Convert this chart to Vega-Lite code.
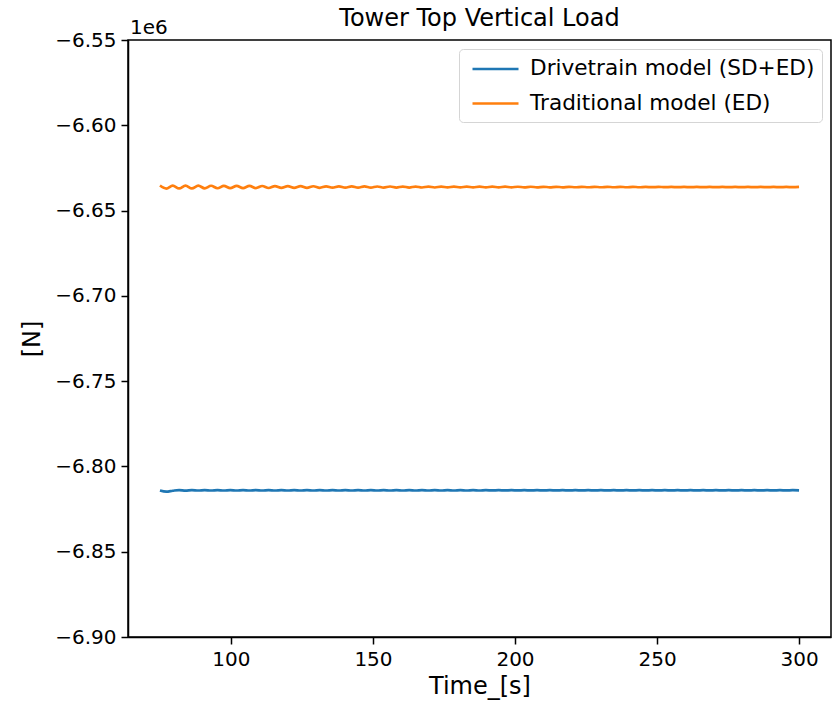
{
  "$schema": "https://vega.github.io/schema/vega-lite/v6.json",
  "width": 703,
  "height": 597,
  "autosize": "none",
  "padding": {"left": 128, "top": 40, "right": 1, "bottom": 65},
  "config": {
    "font": "DejaVu Sans",
    "view": {"stroke": "black", "strokeWidth": 1.5},
    "axis": {"grid": false, "domainColor": "black", "domainWidth": 1.5, "tickColor": "black", "tickWidth": 1.5, "labelColor": "black", "titleColor": "black", "labelFontSize": 20, "titleFontSize": 24, "titleFontWeight": "normal", "tickSize": 7, "labelPadding": 5},
    "legend": {"labelFontSize": 21.6}
  },
  "title": {"text": "Tower Top Vertical Load", "fontSize": 24, "fontWeight": "normal", "color": "black", "offset": -13, "frame": "group"},
  "data": {"values": [
    {"t":75,"Drivetrain model (SD+ED)":-6814100,"Traditional model (ED)":-6635300},
    {"t":77.25,"Drivetrain model (SD+ED)":-6814800,"Traditional model (ED)":-6637080},
    {"t":79.5,"Drivetrain model (SD+ED)":-6814250,"Traditional model (ED)":-6635340},
    {"t":81.75,"Drivetrain model (SD+ED)":-6813850,"Traditional model (ED)":-6637040},
    {"t":84,"Drivetrain model (SD+ED)":-6814150,"Traditional model (ED)":-6635380},
    {"t":86.25,"Drivetrain model (SD+ED)":-6813880,"Traditional model (ED)":-6637000},
    {"t":88.5,"Drivetrain model (SD+ED)":-6814120,"Traditional model (ED)":-6635420},
    {"t":90.75,"Drivetrain model (SD+ED)":-6813880,"Traditional model (ED)":-6636960},
    {"t":93,"Drivetrain model (SD+ED)":-6814120,"Traditional model (ED)":-6635460},
    {"t":95.25,"Drivetrain model (SD+ED)":-6813880,"Traditional model (ED)":-6636920},
    {"t":97.5,"Drivetrain model (SD+ED)":-6814120,"Traditional model (ED)":-6635500},
    {"t":99.75,"Drivetrain model (SD+ED)":-6813880,"Traditional model (ED)":-6636883},
    {"t":102,"Drivetrain model (SD+ED)":-6814120,"Traditional model (ED)":-6635535},
    {"t":104.25,"Drivetrain model (SD+ED)":-6813880,"Traditional model (ED)":-6636848},
    {"t":106.5,"Drivetrain model (SD+ED)":-6814120,"Traditional model (ED)":-6635570},
    {"t":108.75,"Drivetrain model (SD+ED)":-6813880,"Traditional model (ED)":-6636813},
    {"t":111,"Drivetrain model (SD+ED)":-6814120,"Traditional model (ED)":-6635605},
    {"t":113.25,"Drivetrain model (SD+ED)":-6813880,"Traditional model (ED)":-6636778},
    {"t":115.5,"Drivetrain model (SD+ED)":-6814120,"Traditional model (ED)":-6635640},
    {"t":117.75,"Drivetrain model (SD+ED)":-6813880,"Traditional model (ED)":-6636743},
    {"t":120,"Drivetrain model (SD+ED)":-6814120,"Traditional model (ED)":-6635675},
    {"t":122.25,"Drivetrain model (SD+ED)":-6813880,"Traditional model (ED)":-6636708},
    {"t":124.5,"Drivetrain model (SD+ED)":-6814120,"Traditional model (ED)":-6635710},
    {"t":126.75,"Drivetrain model (SD+ED)":-6813880,"Traditional model (ED)":-6636673},
    {"t":129,"Drivetrain model (SD+ED)":-6814120,"Traditional model (ED)":-6635745},
    {"t":131.25,"Drivetrain model (SD+ED)":-6813880,"Traditional model (ED)":-6636638},
    {"t":133.5,"Drivetrain model (SD+ED)":-6814120,"Traditional model (ED)":-6635780},
    {"t":135.75,"Drivetrain model (SD+ED)":-6813880,"Traditional model (ED)":-6636603},
    {"t":138,"Drivetrain model (SD+ED)":-6814120,"Traditional model (ED)":-6635815},
    {"t":140.25,"Drivetrain model (SD+ED)":-6813880,"Traditional model (ED)":-6636568},
    {"t":142.5,"Drivetrain model (SD+ED)":-6814120,"Traditional model (ED)":-6635850},
    {"t":144.75,"Drivetrain model (SD+ED)":-6813880,"Traditional model (ED)":-6636543},
    {"t":147,"Drivetrain model (SD+ED)":-6814120,"Traditional model (ED)":-6635863},
    {"t":149.25,"Drivetrain model (SD+ED)":-6813880,"Traditional model (ED)":-6636530},
    {"t":151.5,"Drivetrain model (SD+ED)":-6814120,"Traditional model (ED)":-6635877},
    {"t":153.75,"Drivetrain model (SD+ED)":-6813880,"Traditional model (ED)":-6636517},
    {"t":156,"Drivetrain model (SD+ED)":-6814120,"Traditional model (ED)":-6635890},
    {"t":158.25,"Drivetrain model (SD+ED)":-6813880,"Traditional model (ED)":-6636503},
    {"t":160.5,"Drivetrain model (SD+ED)":-6814120,"Traditional model (ED)":-6635903},
    {"t":162.75,"Drivetrain model (SD+ED)":-6813880,"Traditional model (ED)":-6636490},
    {"t":165,"Drivetrain model (SD+ED)":-6814120,"Traditional model (ED)":-6635917},
    {"t":167.25,"Drivetrain model (SD+ED)":-6813880,"Traditional model (ED)":-6636477},
    {"t":169.5,"Drivetrain model (SD+ED)":-6814120,"Traditional model (ED)":-6635930},
    {"t":171.75,"Drivetrain model (SD+ED)":-6813880,"Traditional model (ED)":-6636463},
    {"t":174,"Drivetrain model (SD+ED)":-6814120,"Traditional model (ED)":-6635943},
    {"t":176.25,"Drivetrain model (SD+ED)":-6813880,"Traditional model (ED)":-6636450},
    {"t":178.5,"Drivetrain model (SD+ED)":-6814120,"Traditional model (ED)":-6635957},
    {"t":180.75,"Drivetrain model (SD+ED)":-6813880,"Traditional model (ED)":-6636437},
    {"t":183,"Drivetrain model (SD+ED)":-6814120,"Traditional model (ED)":-6635970},
    {"t":185.25,"Drivetrain model (SD+ED)":-6813880,"Traditional model (ED)":-6636423},
    {"t":187.5,"Drivetrain model (SD+ED)":-6814120,"Traditional model (ED)":-6635983},
    {"t":189.75,"Drivetrain model (SD+ED)":-6813910,"Traditional model (ED)":-6636410},
    {"t":192,"Drivetrain model (SD+ED)":-6814090,"Traditional model (ED)":-6635997},
    {"t":194.25,"Drivetrain model (SD+ED)":-6813910,"Traditional model (ED)":-6636397},
    {"t":196.5,"Drivetrain model (SD+ED)":-6814090,"Traditional model (ED)":-6636010},
    {"t":198.75,"Drivetrain model (SD+ED)":-6813910,"Traditional model (ED)":-6636383},
    {"t":201,"Drivetrain model (SD+ED)":-6814090,"Traditional model (ED)":-6636023},
    {"t":203.25,"Drivetrain model (SD+ED)":-6813910,"Traditional model (ED)":-6636370},
    {"t":205.5,"Drivetrain model (SD+ED)":-6814090,"Traditional model (ED)":-6636037},
    {"t":207.75,"Drivetrain model (SD+ED)":-6813910,"Traditional model (ED)":-6636357},
    {"t":210,"Drivetrain model (SD+ED)":-6814090,"Traditional model (ED)":-6636050},
    {"t":212.25,"Drivetrain model (SD+ED)":-6813910,"Traditional model (ED)":-6636348},
    {"t":214.5,"Drivetrain model (SD+ED)":-6814090,"Traditional model (ED)":-6636054},
    {"t":216.75,"Drivetrain model (SD+ED)":-6813910,"Traditional model (ED)":-6636343},
    {"t":219,"Drivetrain model (SD+ED)":-6814090,"Traditional model (ED)":-6636059},
    {"t":221.25,"Drivetrain model (SD+ED)":-6813910,"Traditional model (ED)":-6636339},
    {"t":223.5,"Drivetrain model (SD+ED)":-6814090,"Traditional model (ED)":-6636063},
    {"t":225.75,"Drivetrain model (SD+ED)":-6813910,"Traditional model (ED)":-6636334},
    {"t":228,"Drivetrain model (SD+ED)":-6814090,"Traditional model (ED)":-6636068},
    {"t":230.25,"Drivetrain model (SD+ED)":-6813910,"Traditional model (ED)":-6636330},
    {"t":232.5,"Drivetrain model (SD+ED)":-6814090,"Traditional model (ED)":-6636072},
    {"t":234.75,"Drivetrain model (SD+ED)":-6813910,"Traditional model (ED)":-6636325},
    {"t":237,"Drivetrain model (SD+ED)":-6814090,"Traditional model (ED)":-6636077},
    {"t":239.25,"Drivetrain model (SD+ED)":-6813910,"Traditional model (ED)":-6636321},
    {"t":241.5,"Drivetrain model (SD+ED)":-6814090,"Traditional model (ED)":-6636081},
    {"t":243.75,"Drivetrain model (SD+ED)":-6813910,"Traditional model (ED)":-6636316},
    {"t":246,"Drivetrain model (SD+ED)":-6814090,"Traditional model (ED)":-6636086},
    {"t":248.25,"Drivetrain model (SD+ED)":-6813910,"Traditional model (ED)":-6636312},
    {"t":250.5,"Drivetrain model (SD+ED)":-6814090,"Traditional model (ED)":-6636090},
    {"t":252.75,"Drivetrain model (SD+ED)":-6813910,"Traditional model (ED)":-6636307},
    {"t":255,"Drivetrain model (SD+ED)":-6814090,"Traditional model (ED)":-6636095},
    {"t":257.25,"Drivetrain model (SD+ED)":-6813910,"Traditional model (ED)":-6636303},
    {"t":259.5,"Drivetrain model (SD+ED)":-6814090,"Traditional model (ED)":-6636099},
    {"t":261.75,"Drivetrain model (SD+ED)":-6813910,"Traditional model (ED)":-6636298},
    {"t":264,"Drivetrain model (SD+ED)":-6814090,"Traditional model (ED)":-6636104},
    {"t":266.25,"Drivetrain model (SD+ED)":-6813910,"Traditional model (ED)":-6636294},
    {"t":268.5,"Drivetrain model (SD+ED)":-6814090,"Traditional model (ED)":-6636108},
    {"t":270.75,"Drivetrain model (SD+ED)":-6813910,"Traditional model (ED)":-6636289},
    {"t":273,"Drivetrain model (SD+ED)":-6814090,"Traditional model (ED)":-6636113},
    {"t":275.25,"Drivetrain model (SD+ED)":-6813910,"Traditional model (ED)":-6636285},
    {"t":277.5,"Drivetrain model (SD+ED)":-6814090,"Traditional model (ED)":-6636117},
    {"t":279.75,"Drivetrain model (SD+ED)":-6813910,"Traditional model (ED)":-6636280},
    {"t":282,"Drivetrain model (SD+ED)":-6814090,"Traditional model (ED)":-6636122},
    {"t":284.25,"Drivetrain model (SD+ED)":-6813910,"Traditional model (ED)":-6636276},
    {"t":286.5,"Drivetrain model (SD+ED)":-6814090,"Traditional model (ED)":-6636126},
    {"t":288.75,"Drivetrain model (SD+ED)":-6813910,"Traditional model (ED)":-6636271},
    {"t":291,"Drivetrain model (SD+ED)":-6814090,"Traditional model (ED)":-6636131},
    {"t":293.25,"Drivetrain model (SD+ED)":-6813910,"Traditional model (ED)":-6636267},
    {"t":295.5,"Drivetrain model (SD+ED)":-6814090,"Traditional model (ED)":-6636135},
    {"t":297.75,"Drivetrain model (SD+ED)":-6813910,"Traditional model (ED)":-6636262},
    {"t":300,"Drivetrain model (SD+ED)":-6814000,"Traditional model (ED)":-6636140}
  ]},
  "layer": [
    {
      "transform": [{"fold": ["Drivetrain model (SD+ED)", "Traditional model (ED)"], "as": ["model", "load"]}],
      "mark": {"type": "line", "strokeWidth": 2.7, "interpolate": "monotone", "clip": true},
      "encoding": {
        "x": {"field": "t", "type": "quantitative", "scale": {"domain": [63.75, 311.25], "nice": false, "zero": false},
              "axis": {"values": [100, 150, 200, 250, 300], "title": "Time_[s]", "format": "d", "titlePadding": 5}},
        "y": {"field": "load", "type": "quantitative", "scale": {"domain": [-6900000, -6550000], "nice": false, "zero": false},
              "axis": {"values": [-6900000, -6850000, -6800000, -6750000, -6700000, -6650000, -6600000, -6550000], "labelExpr": "format(datum.value / 1000000, '.2f')", "title": "[N]", "titlePadding": 10}},
        "color": {"field": "model", "type": "nominal",
                  "scale": {"domain": ["Drivetrain model (SD+ED)", "Traditional model (ED)"], "range": ["#1f77b4", "#ff7f0e"]},
                  "legend": {"title": null, "orient": "top-right", "offset": 9, "symbolType": "M-2,0H2", "symbolSize": 529, "symbolOffset": 16.5, "symbolStrokeWidth": 2.7, "fillColor": "white", "strokeColor": "#d5d5d5", "cornerRadius": 4, "padding": 7, "rowPadding": 10.5, "labelOffset": 21.5, "labelLimit": 500, "labelColor": "black"}}
      }
    },
    {
      "data": {"values": [{"label": "1e6"}]},
      "mark": {"type": "text", "align": "left", "baseline": "alphabetic", "fontSize": 20, "dx": 2, "dy": -6, "color": "black"},
      "encoding": {
        "x": {"datum": 63.75, "type": "quantitative"},
        "y": {"datum": -6550000, "type": "quantitative"},
        "text": {"field": "label"}
      }
    }
  ]
}
